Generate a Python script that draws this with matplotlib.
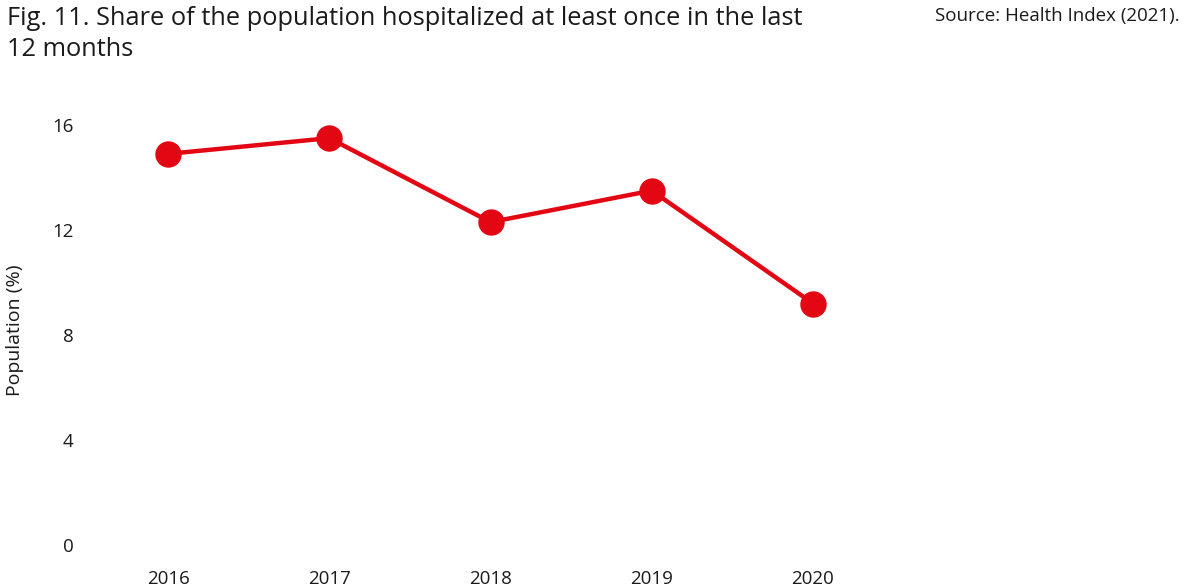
import matplotlib
matplotlib.use('Agg')
import matplotlib.pyplot as plt

years = ['2016', '2017', '2018', '2019', '2020']
share = [14.9, 15.5, 12.3, 13.5, 9.2]
yticks = [0, 4, 8, 12, 16]

plt.rcParams['font.family'] = ['Open Sans', 'DejaVu Sans']
txt = '#1a1a1a'

fig = plt.figure(figsize=(11.85, 5.86), dpi=100)
# axes placed so that category spacing and y scale match the reference
ax = fig.add_axes([87.4 / 1185, 41 / 586, 806.2 / 1185, 446.25 / 586])

x = range(len(years))
ax.plot(x, share, color='#e30613', linewidth=3.2, marker='o', markersize=18,
        solid_capstyle='round')

ax.set_xlim(-0.5, 4.5)
ax.set_ylim(0, 17)
ax.set_xticks(list(x))
ax.set_xticklabels(years)
ax.set_yticks(yticks)
ax.tick_params(axis='both', length=0, labelsize=13.5, colors=txt)
ax.tick_params(axis='y', pad=10)
ax.tick_params(axis='x', pad=18)
for s in ax.spines.values():
    s.set_visible(False)

fig.text(15 / 1185, 1 - 330 / 586, 'Population (%)', rotation=90, fontsize=14,
         ha='center', va='center', color=txt)

fig.text(7 / 1185, 1 - 6 / 586,
         'Fig. 11. Share of the population hospitalized at least once in the last\n12 months',
         fontsize=18.3, ha='left', va='top', color=txt, linespacing=1.3)
fig.text(1180 / 1185, 1 - 7 / 586, 'Source: Health Index (2021).', fontsize=13.5,
         ha='right', va='top', color=txt)

fig.savefig('out.png', dpi=100)
